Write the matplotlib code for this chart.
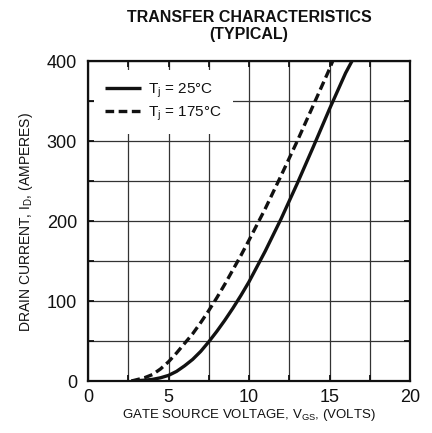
import matplotlib
matplotlib.use("Agg")
import matplotlib.pyplot as plt
from matplotlib.ticker import MultipleLocator

plt.rcParams['font.family'] = ['Liberation Sans', 'DejaVu Sans']
plt.rcParams['mathtext.fontset'] = 'custom'
plt.rcParams['mathtext.rm'] = 'Liberation Sans'
plt.rcParams['mathtext.it'] = 'Liberation Sans:italic'

# Data
vgs_25 = [2.7, 3.5, 4, 4.5, 5, 5.5, 6, 6.5, 7, 7.5, 8, 8.5, 9, 9.5, 10, 10.5, 11, 12, 13, 14, 15, 16, 16.4]
id_25 = [0, 1, 2, 4, 7, 12, 19, 27, 37, 49, 62, 76, 91, 107, 124, 143, 162, 203, 247, 293, 340, 385, 400]
vgs_175 = [2.7, 3.5, 4, 4.5, 5, 5.5, 6, 6.5, 7, 7.5, 8, 8.5, 9, 9.5, 10, 11, 12, 13, 14, 15, 15.2]
id_175 = [0, 4, 8, 15, 24, 35, 47, 59, 73, 88, 104, 121, 139, 157, 176, 215, 257, 300, 345, 390, 400]
labels = ['T$\\mathregular{_j}$ = 25°C', 'T$\\mathregular{_j}$ = 175°C']
x_ticks = [0, 5, 10, 15, 20]
y_ticks = [0, 100, 200, 300, 400]

fig = plt.figure(figsize=(4.32, 4.33), dpi=100)
ax = fig.add_axes([88/432, 1-381/433, (410-88)/432, (381-61)/433])

ax.plot(vgs_25, id_25, color='#111111', lw=2.4, solid_capstyle='butt', label=labels[0], zorder=3)
ax.plot(vgs_175, id_175, color='#111111', lw=2.4, ls=(0, (2.6, 1.35)), label=labels[1], zorder=3)

ax.set_xlim(0, 20)
ax.set_ylim(0, 400)
ax.set_xticks(x_ticks)
ax.set_yticks(y_ticks)
ax.xaxis.set_minor_locator(MultipleLocator(2.5))
ax.yaxis.set_minor_locator(MultipleLocator(50))
ax.grid(which='both', color='#333333', lw=0.9, zorder=1)
ax.set_axisbelow(True)
ax.tick_params(which='both', direction='in', length=4, width=1.3, color='#111111',
               top=True, right=True, labelsize=13, labelcolor='#111111')
ax.tick_params(axis='x', pad=6)
ax.tick_params(axis='y', pad=8)
for s in ax.spines.values():
    s.set_linewidth(1.6)
    s.set_color('#111111')

leg = ax.legend(loc='upper left', bbox_to_anchor=((94-88)/322, (381-70)/320), fontsize=11,
                frameon=True, fancybox=False, edgecolor='none', facecolor='white',
                framealpha=1, handlelength=2.35, handletextpad=0.45, borderaxespad=0,
                labelspacing=0.3, borderpad=0.75)
for t in leg.get_texts():
    t.set_color('#111111')

fig.text(249/432, 1-17/433, 'TRANSFER CHARACTERISTICS', ha='center', va='center',
         fontsize=11.5, fontweight='bold', color='#111111')
fig.text(249/432, 1-34/433, '(TYPICAL)', ha='center', va='center',
         fontsize=11.5, fontweight='bold', color='#111111')
fig.text(249/432, 1-415/433, 'GATE SOURCE VOLTAGE, V$\\mathregular{_{GS}}$, (VOLTS)',
         ha='center', va='center', fontsize=9.5, color='#111111')
fig.text(26/432, 1-222/433, 'DRAIN CURRENT, I$\\mathregular{_D}$, (AMPERES)',
         ha='center', va='center', rotation=90, fontsize=10, color='#111111')

fig.savefig('out.png', dpi=100)
